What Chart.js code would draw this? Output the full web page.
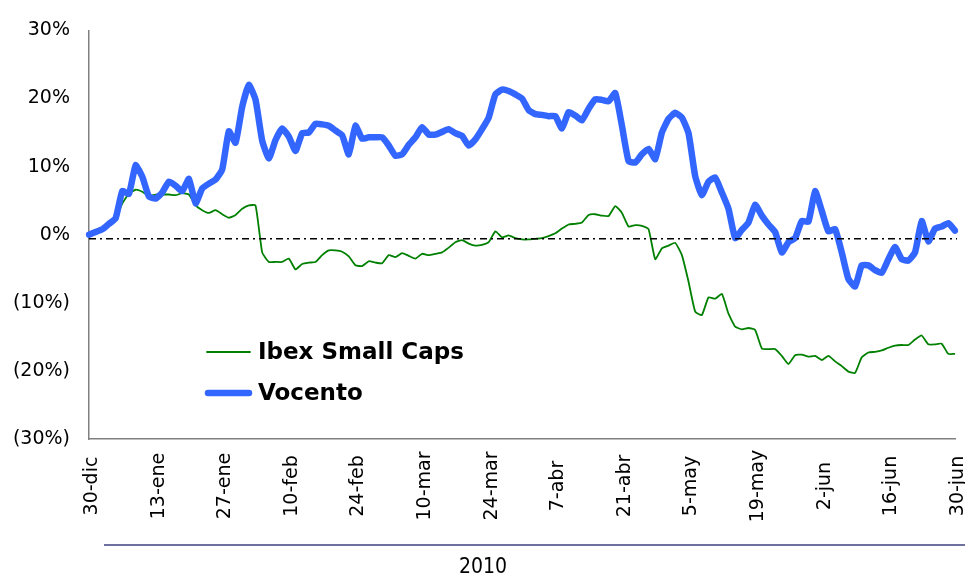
<!DOCTYPE html>
<html>
<head>
<meta charset="utf-8">
<script src="https://cdn.jsdelivr.net/npm/chart.js@4.4.1/dist/chart.umd.min.js"></script>
<style>
  html, body { margin: 0; padding: 0; background: #ffffff; }
  #wrap { width: 965px; height: 578px; position: relative; }
</style>
</head>
<body>
<div id="wrap"><canvas id="c" width="965" height="578"></canvas></div>
<script>
// ---- Data (trading days, 30-dic-2009 .. 30-jun-2010) ----
const MONTHS_ES = ['ene','feb','mar','abr','may','jun','jul','ago','sep','oct','nov','dic'];
const START_DATE = [2009, 11, 30];
const N_DAYS = 131;
const categories = [];
(function(){
  const d = new Date(START_DATE[0], START_DATE[1], START_DATE[2]);
  while (categories.length < N_DAYS) {
    const wd = d.getDay();
    if (wd !== 0 && wd !== 6) categories.push(d.getDate() + '-' + MONTHS_ES[d.getMonth()]);
    d.setDate(d.getDate() + 1);
  }
})();

const tickLabels = ['30-dic','13-ene','27-ene','10-feb','24-feb','10-mar','24-mar','7-abr','21-abr','5-may','19-may','2-jun','16-jun','30-jun'];
const yTickLabels = ['(30%)','(20%)','(10%)','0%','10%','20%','30%'];
const seriesNames = ['Ibex Small Caps', 'Vocento'];
const referenceLevel = -0.6;

const vocento = [
  0.0, 0.4, 0.8, 1.6, 2.4, 6.4, 6.0, 10.2, 8.5, 5.6,
  5.3, 6.2, 7.8, 7.2, 6.4, 8.2, 4.6, 6.8, 7.5, 8.1,
  9.6, 15.2, 13.5, 18.8, 22.0, 19.8, 13.8, 11.2, 13.9, 15.6,
  14.4, 12.3, 14.9, 15.0, 16.3, 16.2, 16.0, 15.3, 14.6, 11.8,
  16.0, 14.1, 14.3, 14.3, 14.3, 13.1, 11.6, 11.8, 13.2, 14.3,
  15.8, 14.7, 14.7, 15.1, 15.5, 14.9, 14.5, 13.1, 14.0, 15.5,
  17.2, 20.6, 21.3, 21.1, 20.6, 20.0, 18.3, 17.7, 17.6, 17.4,
  17.4, 15.6, 18.0, 17.5, 16.8, 18.5, 19.9, 19.8, 19.6, 20.8,
  16.0, 10.8, 10.6, 11.8, 12.6, 11.1, 15.0, 17.0, 17.9, 17.2,
  14.9, 8.6, 5.8, 7.8, 8.4, 6.2, 3.8, -0.5, 0.7, 1.8,
  4.4, 2.8, 1.5, 0.4, -2.6, -1.1, -0.5, 2.0, 1.9, 6.4,
  3.5, 0.5, 0.8, -2.6, -6.5, -7.6, -4.5, -4.5, -5.2, -5.6,
  -3.6, -1.8, -3.6, -3.8, -2.6, 2.0, -1.0, 0.9, 1.2, 1.7,
  0.6
];

const ibexSmallCaps = [
  0.0, 0.4, 0.8, 1.6, 2.4, 4.6, 6.0, 6.6, 6.3, 5.7,
  5.9, 5.9, 5.9, 5.8, 6.1, 5.9, 4.3, 3.6, 3.2, 3.6,
  3.0, 2.5, 2.9, 3.8, 4.3, 4.3, -2.6, -4.0, -4.0, -4.0,
  -3.5, -5.1, -4.3, -4.1, -4.0, -3.0, -2.3, -2.3, -2.5, -3.2,
  -4.5, -4.6, -3.9, -4.1, -4.2, -3.0, -3.3, -2.7, -3.1, -3.5,
  -2.8, -3.0, -2.8, -2.6, -1.9, -1.1, -0.8, -1.3, -1.6, -1.5,
  -1.1, 0.5, -0.4, -0.1, -0.5, -0.7, -0.7, -0.6, -0.5, -0.2,
  0.2, 0.9, 1.5, 1.6, 1.8, 2.9, 3.0, 2.8, 2.75, 4.2,
  3.2, 1.2, 1.4, 1.3, 0.8, -3.6, -2.0, -1.6, -1.2, -3.0,
  -6.9, -11.3, -11.8, -9.2, -9.4, -8.7, -11.6, -13.5, -13.9, -13.7,
  -14.0, -16.7, -16.8, -16.8, -17.8, -19.0, -17.7, -17.6, -17.9, -17.8,
  -18.4, -17.8, -18.6, -19.3, -20.1, -20.3, -18.0, -17.3, -17.2, -17.0,
  -16.6, -16.3, -16.2, -16.2, -15.4, -14.8, -16.1, -16.1, -16.0, -17.5,
  -17.5
];

const COLORS = { ibex: '#008000', vocento: '#3366FF' };
const FONT = '"DejaVu Sans", "Noto Sans", sans-serif';

// ---- Plugins ----
const decorations = {
  id: 'decorations',
  afterDatasetsDraw(chart) {
    const ctx = chart.ctx;
    const ys = chart.scales.y;
    const area = chart.chartArea;
    // dash-dot reference line
    ctx.save();
    const yr = ys.getPixelForValue(referenceLevel);
    ctx.strokeStyle = '#000000';
    ctx.lineWidth = 1.6;
    ctx.setLineDash([7, 4, 2, 4]);
    ctx.beginPath();
    ctx.moveTo(area.left, yr);
    ctx.lineTo(area.right + 2, yr);
    ctx.stroke();
    ctx.restore();
  },
  afterDraw(chart) {
    const ctx = chart.ctx;
    const xs = chart.scales.x;
    ctx.save();
    // x tick labels (rotated, centred)
    ctx.fillStyle = '#000000';
    ctx.font = '19px ' + FONT;
    ctx.textAlign = 'center';
    ctx.textBaseline = 'middle';
    tickLabels.forEach((lab) => {
      const idx = categories.indexOf(lab);
      const x = xs.getPixelForValue(idx) + 3;
      ctx.save();
      ctx.translate(x, 486);
      ctx.rotate(-Math.PI / 2);
      ctx.fillText(lab, 0, 0);
      ctx.restore();
    });
    // year line and label
    ctx.strokeStyle = '#7070A0';
    ctx.lineWidth = 2;
    ctx.beginPath();
    ctx.moveTo(104, 545);
    ctx.lineTo(965, 545);
    ctx.stroke();
    ctx.font = '21px "Liberation Sans Narrow", "DejaVu Sans Condensed", sans-serif';
    ctx.fillText('2010', 483, 568);
    // legend
    ctx.textAlign = 'left';
    ctx.font = 'bold 23px ' + FONT;
    ctx.lineCap = 'round';
    ctx.strokeStyle = COLORS.ibex;
    ctx.lineWidth = 1.8;
    ctx.beginPath(); ctx.moveTo(207, 352); ctx.lineTo(250, 352); ctx.stroke();
    ctx.fillText(seriesNames[0], 258, 353);
    ctx.strokeStyle = COLORS.vocento;
    ctx.lineWidth = 6.5;
    ctx.beginPath(); ctx.moveTo(208, 393); ctx.lineTo(249, 393); ctx.stroke();
    ctx.fillText(seriesNames[1], 258, 394);
    ctx.restore();
  }
};

new Chart(document.getElementById('c'), {
  type: 'line',
  data: {
    labels: categories,
    datasets: [
      {
        label: seriesNames[1],
        data: vocento,
        borderColor: COLORS.vocento,
        backgroundColor: COLORS.vocento,
        borderWidth: 6.5,
        pointRadius: 0,
        tension: 0.15,
        borderJoinStyle: 'round',
        borderCapStyle: 'round',
        order: 0
      },
      {
        label: seriesNames[0],
        data: ibexSmallCaps,
        borderColor: COLORS.ibex,
        backgroundColor: COLORS.ibex,
        borderWidth: 1.8,
        pointRadius: 0,
        tension: 0.15,
        borderJoinStyle: 'round',
        order: 1
      }
    ]
  },
  options: {
    responsive: false,
    devicePixelRatio: 1,
    animation: false,
    events: [],
    layout: { padding: { left: 0, top: 25, right: 10, bottom: 139 } },
    plugins: { legend: { display: false }, tooltip: { enabled: false } },
    scales: {
      x: {
        type: 'category',
        offset: false,
        grid: { display: false },
        border: { display: true, color: '#808080', width: 1.5 },
        ticks: { display: false },
        afterFit(scale) { scale.height = 0; }
      },
      y: {
        min: -30,
        max: 30,
        grid: { display: false, drawTicks: false },
        border: { display: true, color: '#808080', width: 1.5 },
        ticks: {
          stepSize: 10,
          padding: 19,
          color: '#000000',
          font: { family: FONT, size: 19 },
          callback(v) {
            const i = Math.round((v + 30) / 10);
            return yTickLabels[i];
          }
        },
        afterFit(scale) { scale.width = 89; }
      }
    }
  },
  plugins: [decorations]
});
</script>
</body>
</html>
